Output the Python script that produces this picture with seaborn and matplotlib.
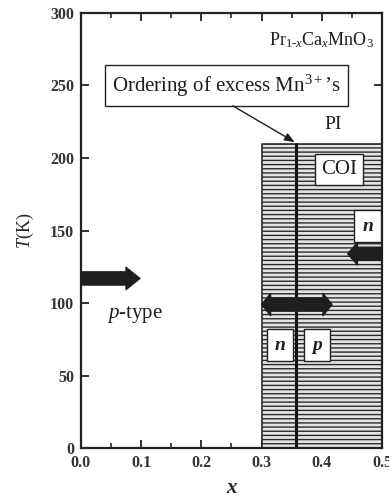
import matplotlib
matplotlib.use("Agg")
import matplotlib.pyplot as plt
import seaborn as sns
import pandas as pd

# Phase-diagram values for Pr(1-x)Ca(x)MnO3
x_ticks = [0.0, 0.1, 0.2, 0.3, 0.4, 0.5]
x_tick_labels = ["0.0", "0.1", "0.2", "0.3", "0.4", "0.5"]
t_ticks = [0, 50, 100, 150, 200, 250, 300]
coi_x = [0.30, 0.50]          # charge-ordered insulator composition range
coi_tc = 210                  # ordering temperature (K)
boundary_x = [0.357, 0.357]   # excess Mn3+ ordering line
boundary_t = [0, 210]

sns.set_theme(style="ticks")
plt.rcParams["font.family"] = ["Liberation Serif", "DejaVu Serif"]
plt.rcParams["mathtext.fontset"] = "custom"
plt.rcParams["mathtext.rm"] = "Liberation Serif"
plt.rcParams["mathtext.it"] = "Liberation Serif:italic"
plt.rcParams["mathtext.bf"] = "Liberation Serif:bold"
plt.rcParams["hatch.color"] = "#4a4a4a"
plt.rcParams["hatch.linewidth"] = 1.0

fig = plt.figure(figsize=(3.89, 4.98), dpi=100)
ax = fig.add_axes([0.208, 0.100, 0.774, 0.874])

# hatched COI region
ax.fill_between(coi_x, 0, coi_tc, facecolor="#e4e4e4", edgecolor="#2a2a2a",
                hatch="----", linewidth=1.2, zorder=1)

# ordering boundary line
df_line = pd.DataFrame({"x": boundary_x, "T": boundary_t})
sns.lineplot(data=df_line, x="x", y="T", estimator=None, sort=False,
             color="#111111", linewidth=2.2, ax=ax, zorder=3)

ax.set_xlim(0, 0.5)
ax.set_ylim(0, 300)
ax.set_xticks(x_ticks)
ax.set_xticklabels(x_tick_labels)
ax.set_xticks([0.05, 0.15, 0.25, 0.35, 0.45], minor=True)
ax.set_yticks(t_ticks)
ax.tick_params(axis="both", which="major", direction="in", length=6, width=1.3,
               top=True, right=True, labelsize=11.5, pad=5, colors="#222222")
ax.tick_params(axis="x", which="minor", direction="in", length=3.5, width=1.2,
               top=True, bottom=True)
for lab in ax.get_xticklabels() + ax.get_yticklabels():
    lab.set_fontweight("bold")
    lab.set_color("#333333")
for sp in ax.spines.values():
    sp.set_linewidth(1.6)
    sp.set_color("#222222")

ax.set_xlabel("x", fontsize=15, fontstyle="italic", fontweight="bold", labelpad=5)
ax.set_ylabel(r"$T$(K)", fontsize=13, labelpad=10)

dark = "#1e1e1e"


def boxed(pad):
    return dict(boxstyle=f"square,pad={pad}", facecolor="white", edgecolor="#222222", linewidth=1.0)


ax.text(0.487, 281, r"Pr$_{1\text{-}x}$Ca$_x$MnO$_3$", fontsize=13, ha="right", va="center", color=dark)
ax.text(0.242, 250, r"Ordering of excess Mn$^{3+}$’s", fontsize=15, ha="center", va="center",
        color=dark, bbox=boxed(0.35))
ax.annotate("", xy=(0.355, 211), xytext=(0.252, 236),
            arrowprops=dict(arrowstyle="-|>,head_length=0.5,head_width=0.2", color=dark,
                            linewidth=1.0, shrinkA=0, shrinkB=0))
ax.text(0.419, 223, "PI", fontsize=14, ha="center", va="center", color=dark)
ax.text(0.429, 192, "COI", fontsize=15, ha="center", va="center", color=dark, bbox=boxed(0.3), zorder=4)
ax.text(0.476, 153, "n", fontsize=14, fontstyle="italic", fontweight="bold", ha="center", va="center",
        color=dark, bbox=boxed(0.4), zorder=4)
ax.text(0.331, 71, "n", fontsize=14, fontstyle="italic", fontweight="bold", ha="center", va="center",
        color=dark, bbox=boxed(0.4), zorder=4)
ax.text(0.392, 71, "p", fontsize=14, fontstyle="italic", fontweight="bold", ha="center", va="center",
        color=dark, bbox=boxed(0.4), zorder=4)
ax.text(0.09, 92, r"$p$-type", fontsize=15, ha="center", va="center", color=dark)

# carrier-type arrows
def big_arrow(x0, x1, t, hl=1.0, hw=1.6):
    ax.annotate("", xy=(x1, t), xytext=(x0, t), zorder=5,
                arrowprops=dict(arrowstyle=f"simple,head_length={hl},head_width={hw},tail_width=0.95",
                                mutation_scale=10, color=dark, shrinkA=0, shrinkB=0))

big_arrow(0.0, 0.098, 117)
big_arrow(0.5, 0.443, 134, hl=0.7)
big_arrow(0.358, 0.300, 99, hl=0.65)
big_arrow(0.356, 0.417, 99, hl=0.65)

fig.savefig("out.png", dpi=100)
